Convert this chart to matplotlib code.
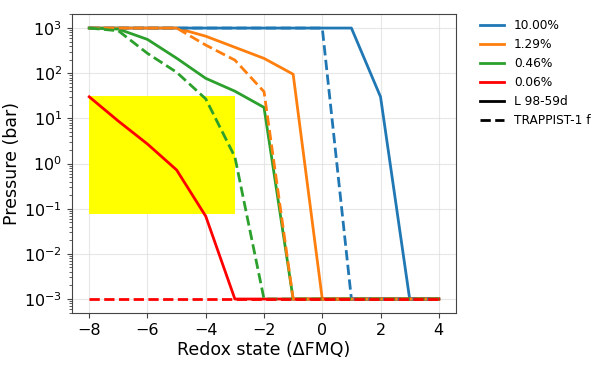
import numpy as np
import matplotlib.pyplot as plt
from matplotlib.lines import Line2D

# Redox state grid
redox = [-8, -7, -6, -5, -4, -3, -2, -1, 0, 1, 2, 3, 4]

labels = ["10.00%", "1.29%", "0.46%", "0.06%"]
colors = ["tab:blue", "tab:orange", "tab:green", "red"]

# L 98-59d (solid)
l98_10 = [1000, 1000, 1000, 1000, 1000, 1000, 1000, 1000, 1000, 1000, 30, 1e-3, 1e-3]
l98_129 = [1000, 1000, 1000, 1000, 660, 375, 213, 95, 1e-3, 1e-3, 1e-3, 1e-3, 1e-3]
l98_046 = [1000, 950, 560, 215, 77, 40, 17.5, 1e-3, 1e-3, 1e-3, 1e-3, 1e-3, 1e-3]
l98_006 = [30, 8.7, 2.7, 0.72, 0.068, 1e-3, 1e-3, 1e-3, 1e-3, 1e-3, 1e-3, 1e-3, 1e-3]

# TRAPPIST-1 f (dashed)
t1f_10 = [1000, 1000, 1000, 1000, 1000, 1000, 1000, 1000, 1000, 1e-3, 1e-3, 1e-3, 1e-3]
t1f_129 = [1000, 1000, 1000, 1000, 420, 195, 39, 1e-3, 1e-3, 1e-3, 1e-3, 1e-3, 1e-3]
t1f_046 = [1000, 870, 275, 105, 27, 1.4, 1e-3, 1e-3, 1e-3, 1e-3, 1e-3, 1e-3, 1e-3]
t1f_006 = [1e-3] * 13

# highlighted region
box_x = [-8, -3]
box_lo = 0.078
box_hi = 32

fig = plt.figure(figsize=(5.98, 3.7), dpi=100)
ax = fig.add_axes([0.12, 0.154, 0.643, 0.808])

ax.fill_between(box_x, box_lo, box_hi, color="yellow", lw=0)

for y, c in zip([l98_10, l98_129, l98_046, l98_006], colors):
    ax.plot(redox, y, color=c, lw=2)
for y, c in zip([t1f_10, t1f_129, t1f_046, t1f_006], colors):
    ax.plot(redox, y, color=c, lw=2, ls="--")

ax.set_yscale("log")
ax.set_xlim(-8.6, 4.6)
ax.set_ylim(10**-3.31, 10**3.31)
ax.grid(True, color="#dddddd", lw=0.8, alpha=0.7)
ax.set_axisbelow(True)
for s in ax.spines.values():
    s.set_color("#444444")
ax.tick_params(labelsize=11.5, color="#444444")
ax.tick_params(which="minor", color="#444444")
ax.set_xlabel("Redox state (ΔFMQ)", fontsize=12.5, labelpad=2)
ax.set_ylabel("Pressure (bar)", fontsize=12.5, labelpad=2)

handles = [Line2D([], [], color=c, lw=2) for c in colors]
handles += [Line2D([], [], color="black", lw=2),
            Line2D([], [], color="black", lw=2, ls="--")]
ax.legend(handles, labels + ["L 98-59d", "TRAPPIST-1 f"], loc="upper left",
          bbox_to_anchor=(1.05, 1.0), borderaxespad=0, frameon=False,
          fontsize=8.7)

fig.savefig("out.png", dpi=100)
